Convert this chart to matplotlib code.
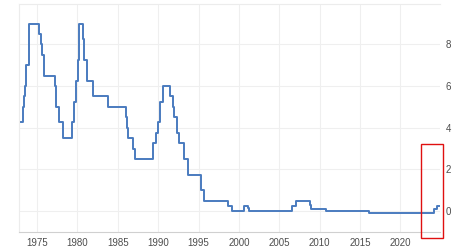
import matplotlib
matplotlib.use("Agg")
import matplotlib.pyplot as plt
from matplotlib.patches import Rectangle

# policy rate, decimal year of each change and the new level
dates = [1972.77, 1973.29, 1973.37, 1973.54, 1973.62, 1973.97,
         1975.29, 1975.45, 1975.62, 1975.83, 1977.20, 1977.30, 1977.70, 1978.21,
         1979.30, 1979.56, 1979.87, 1980.13, 1980.21,
         1980.64, 1980.87, 1981.21, 1981.96, 1983.81,
         1986.08, 1986.19, 1986.30, 1986.84, 1987.15,
         1989.41, 1989.78, 1989.96, 1990.22, 1990.66,
         1991.50, 1991.87, 1991.96, 1992.29, 1992.58, 1993.20, 1993.71,
         1995.29, 1995.70, 1998.70, 1999.12,
         2000.62, 2001.12, 2001.20, 2006.54, 2007.13,
         2008.83, 2008.97, 2010.79, 2016.08, 2024.21, 2024.58, 2024.75]
rates = [4.25, 5.0, 5.5, 6.0, 7.0, 9.0,
         8.5, 8.0, 7.5, 6.5, 6.0, 5.0, 4.25, 3.5,
         4.25, 5.25, 6.25, 7.25, 9.0,
         8.25, 7.25, 6.25, 5.5, 5.0,
         4.5, 4.0, 3.5, 3.0, 2.5,
         3.25, 3.75, 4.25, 5.25, 6.0,
         5.5, 5.0, 4.5, 3.75, 3.25, 2.5, 1.75,
         1.0, 0.5, 0.25, 0.0,
         0.25, 0.15, 0.0, 0.25, 0.5,
         0.3, 0.1, 0.0, -0.1, 0.1, 0.25, 0.25]

xticks = [1975, 1980, 1985, 1990, 1995, 2000, 2005, 2010, 2015, 2020]
yticks = [0, 2, 4, 6, 8]

plt.rcParams['font.family'] = ['Liberation Sans', 'DejaVu Sans']

fig = plt.figure(figsize=(4.65, 2.52), dpi=100)
ax = fig.add_axes([19/465, 1 - 232/252, 421/465, 228/252])

ax.plot(dates, rates, drawstyle='steps-post', color='#4a7bbf', lw=1.4)

ax.set_xlim(1972.77, 2024.9)
ax.set_ylim(-1.01, 9.94)
ax.set_xticks(xticks)
ax.set_yticks(yticks)
ax.yaxis.tick_right()
ax.tick_params(axis='both', length=0, labelsize=7, colors='#4d4d4d')
ax.tick_params(axis='x', pad=4)
ax.tick_params(axis='y', pad=4)
ax.grid(True, color='#efefef', lw=0.8)
ax.set_axisbelow(True)

for s in ['top', 'left']:
    ax.spines[s].set_color('#ececec')
    ax.spines[s].set_linewidth(0.8)
ax.spines['right'].set_visible(False)
ax.spines['bottom'].set_color('#d0d0d0')
ax.spines['bottom'].set_linewidth(0.8)

# red highlight box drawn over the chart
fig.patches.append(Rectangle((421/465, 1 - 238/252), 22/465, 94/252,
                             transform=fig.transFigure, fill=False,
                             edgecolor='#e01010', lw=1.0))

plt.savefig("out.png", dpi=100)
